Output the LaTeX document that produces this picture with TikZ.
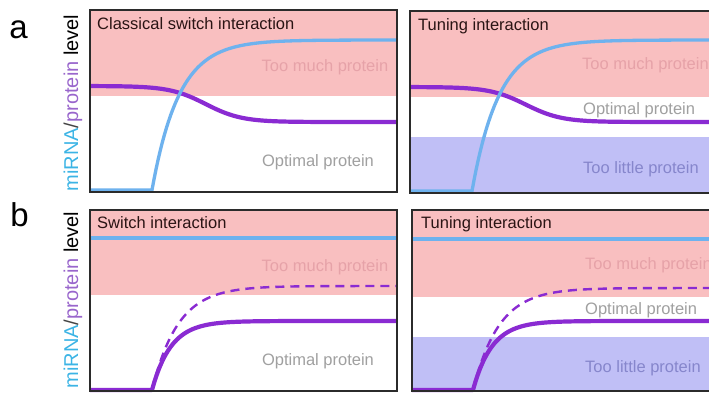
\documentclass[tikz,border=0pt]{standalone}
\usepackage{fontspec}
\setmainfont{Liberation Sans}
\definecolor{pinkbg}{HTML}{F9BFC0}
\definecolor{lilacbg}{HTML}{C0BFF6}
\definecolor{mirnac}{HTML}{6EB2EE}
\definecolor{protc}{HTML}{8A2BD2}
\definecolor{framec}{HTML}{2B2B2B}
\definecolor{titlec}{HTML}{2A1414}
\definecolor{muchtxt}{HTML}{E6A2A8}
\definecolor{opttxt}{HTML}{A0A0A0}
\definecolor{littletxt}{HTML}{8686CC}
\definecolor{mirnatxt}{HTML}{3CB4E5}
\definecolor{prottxt}{HTML}{9966CC}
\definecolor{slashc}{HTML}{444444}
\begin{document}
\begin{tikzpicture}[x=1pt,y=-1pt,
  panelbox/.style={draw=framec, line width=1.8pt},
  mirnaline/.style={draw=mirnac, line width=3.3pt},
  protline/.style={draw=protc, line width=4.2pt, line join=round},
  protdash/.style={draw=protc, line width=2.4pt, dash pattern=on 9pt off 6pt},
  ptitle/.style={anchor=base west, inner sep=0pt, text=titlec, font=\fontsize{16.5}{18}\selectfont},
  zonelbl/.style={inner sep=0pt, font=\fontsize{16.5}{18}\selectfont},
  much/.style={zonelbl, text=muchtxt},
  optimal/.style={zonelbl, text=opttxt},
  little/.style={zonelbl, text=littletxt},
  ylbl/.style={rotate=90, anchor=base, inner sep=0pt, font=\fontsize{20}{22}\selectfont},
  letter/.style={anchor=base, inner sep=0pt, font=\fontsize{33}{36}\selectfont}
]
\useasboundingbox (0,0) rectangle (709,392);
\clip (0,0) rectangle (709,392);

% ---------- letters and axis labels ----------
\node[letter] (la) at (18.5,38) {a};
\node[letter] (lb) at (19.5,226) {b};
\node[ylbl] (ya) at (78,103) {\textcolor{mirnatxt}{miRNA}\textcolor{slashc}{/}\textcolor{prottxt}{protein} level};
\node[ylbl] (yb) at (78,300) {\textcolor{mirnatxt}{miRNA}\textcolor{slashc}{/}\textcolor{prottxt}{protein} level};

% ---------- panel a, left ----------
\fill[white] (90,10) rectangle (397,192);
\fill[pinkbg] (90,10) rectangle (397,96);
\draw[protline] plot[domain=90:397, samples=120] (\x,{86+36/(1+exp(-(\x-205.6)/18))});
\draw[mirnaline] (90,190) -- plot[domain=152:397, samples=120] (\x,{190-150*(1-exp(-(\x-152)/27))});
\draw[panelbox] (90,10) rectangle (397,192);
\node[ptitle] (t1) at (97,29) {Classical switch interaction};
\node[much, anchor=base] (m1) at (325,71) {Too much protein};
\node[optimal, anchor=base] (o1) at (318,166) {Optimal protein};

% ---------- panel a, right ----------
\fill[white] (410,11) rectangle (720,193);
\fill[pinkbg] (410,11) rectangle (720,97);
\fill[lilacbg] (410,137) rectangle (720,193);
\draw[protline] plot[domain=410:717, samples=120] (\x,{87+35/(1+exp(-(\x-525.6)/18))});
\draw[mirnaline] (410,191) -- plot[domain=472:717, samples=120] (\x,{191-151*(1-exp(-(\x-472)/27))});
\draw[panelbox] (410,11) rectangle (730,193);
\node[ptitle] (t2) at (418,30) {Tuning interaction};
\node[much, anchor=base west] (m2) at (582,69) {Too much protein};
\node[optimal, anchor=base west] (o2) at (583,114) {Optimal protein};
\node[little, anchor=base west] (l2) at (583,173) {Too little protein};

% ---------- panel b, left ----------
\fill[white] (90,210) rectangle (397,391);
\fill[pinkbg] (90,210) rectangle (397,295);
\draw[mirnaline] (90,238) -- (397,238);
\draw[protdash] plot[domain=152:397, samples=120] (\x,{390-104*(1-exp(-(\x-152)/26))});
\draw[protline] (90,390) -- plot[domain=152:397, samples=120] (\x,{390-69*(1-exp(-(\x-152)/19))});
\draw[panelbox] (90,210) rectangle (397,391);
\node[ptitle] (t3) at (97,228) {Switch interaction};
\node[much, anchor=base] (m3) at (325,271) {Too much protein};
\node[optimal, anchor=base] (o3) at (318,365) {Optimal protein};

% ---------- panel b, right ----------
\fill[white] (412,210) rectangle (720,391);
\fill[pinkbg] (412,210) rectangle (720,297);
\fill[lilacbg] (412,337) rectangle (720,391);
\draw[mirnaline] (412,239) -- (720,239);
\draw[protdash] plot[domain=473:717, samples=120] (\x,{390-102*(1-exp(-(\x-473)/26))});
\draw[protline] (412,390) -- plot[domain=473:717, samples=120] (\x,{390-69*(1-exp(-(\x-473)/19))});
\draw[panelbox] (412,210) rectangle (730,391);
\node[ptitle] (t4) at (421,228) {Tuning interaction};
\node[much, anchor=base west] (m4) at (585,269) {Too much protein};
\node[optimal, anchor=base west] (o4) at (585,314) {Optimal protein};
\node[little, anchor=base west] (l4) at (585,372) {Too little protein};
\end{tikzpicture}
\end{document}
